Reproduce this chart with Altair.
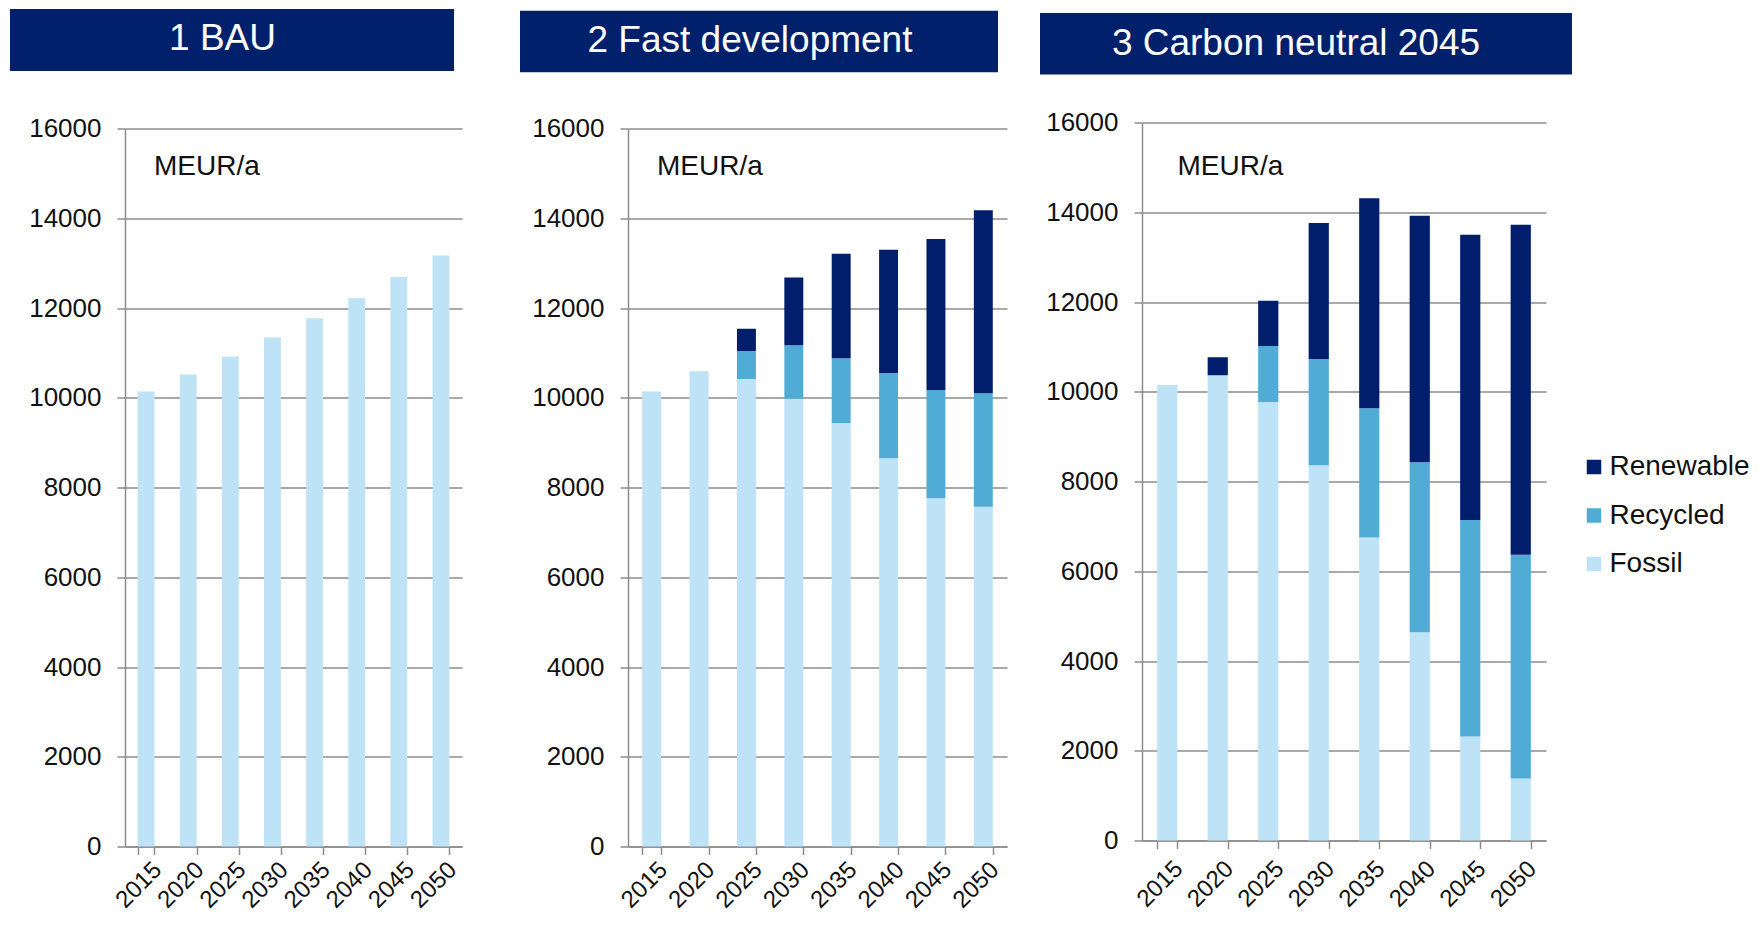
import altair as alt
import pandas as pd

# ---------------- data ----------------
years = ["2015", "2020", "2025", "2030", "2035", "2040", "2045", "2050"]
sources = ["Renewable", "Recycled", "Fossil"]
source_colors = ["#001E6C", "#51ACD5", "#BEE3F7"]
titles = ["1 BAU", "2 Fast development", "3 Carbon neutral 2045"]
unit_label = "MEUR/a"
y_ticks = [0, 2000, 4000, 6000, 8000, 10000, 12000, 14000, 16000]

bau_fossil = [10140, 10520, 10920, 11340, 11770, 12220, 12690, 13170]

fast_fossil = [10140, 10590, 10420, 9980, 9440, 8650, 7760, 7570]
fast_recycled = [0, 0, 620, 1190, 1440, 1900, 2410, 2530]
fast_renewable = [0, 0, 500, 1510, 2330, 2750, 3370, 4080]

cn_fossil = [10150, 10370, 9770, 8360, 6750, 4640, 2320, 1380]
cn_recycled = [0, 0, 1250, 2370, 2880, 3790, 4820, 4990]
cn_renewable = [0, 400, 1010, 3030, 4680, 5490, 6360, 7350]

# ---------------- style ----------------
FONT = "Liberation Sans"
NAVY = "#00206B"
GRID = "#8C8C8C"
TEXT = "#111111"
stack_order = {"Fossil": 0, "Recycled": 1, "Renewable": 2}


def long_df(series):
    rows = []
    for src, vals in series.items():
        for yr, v in zip(years, vals):
            if v > 0:
                rows.append({"year": yr, "source": src, "value": v, "ord": stack_order[src]})
    return pd.DataFrame(rows)


one = pd.DataFrame({"k": [0]})


def panel(df, w, h, y_range, title, spacer, hdr, txt, meur, xlab_pad, legend=None):
    x = alt.X(
        "year:N",
        sort=years,
        scale=alt.Scale(domain=years, paddingInner=0.6, paddingOuter=0.3),
        axis=alt.Axis(
            title=None, labelAngle=315, labelAlign="right", labelBaseline="top",
            labelFontSize=24, labelFont=FONT, labelColor=TEXT, labelPadding=xlab_pad,
            labelOffset=3, tickBand="extent", tickSize=8, tickColor=GRID, tickWidth=1.5,
            domainColor=GRID, domainWidth=1.5, grid=False, labelOverlap=False,
        ),
    )
    y = alt.Y(
        "value:Q",
        stack="zero",
        scale=alt.Scale(domain=[0, 16000], nice=False, range=y_range),
        axis=alt.Axis(
            title=None, values=y_ticks, format="d", labelFontSize=26, labelFont=FONT,
            labelColor=TEXT, labelPadding=16, tickSize=8, tickColor=GRID, tickWidth=1.5,
            gridColor=GRID, gridWidth=1.5, domainColor=GRID, domainWidth=1.5,
        ),
    )
    if legend is None:
        color = alt.Color("source:N", scale=alt.Scale(domain=sources, range=source_colors), legend=None)
    else:
        color = alt.Color("source:N", scale=alt.Scale(domain=sources, range=source_colors), legend=legend)

    bars = alt.Chart(df).mark_bar().encode(
        x=x, y=y, color=color, order=alt.Order("ord:Q", sort="ascending")
    )
    sp = alt.Chart(one).mark_rect(color="white").encode(
        x=alt.value(spacer[0]), x2=alt.value(spacer[1]),
        y=alt.value(spacer[2]), y2=alt.value(spacer[2] + 1),
    )
    header = alt.Chart(one).mark_rect(color=NAVY).encode(
        x=alt.value(hdr[0]), x2=alt.value(hdr[1]), y=alt.value(hdr[2]), y2=alt.value(hdr[3])
    )
    head_text = alt.Chart(one).mark_text(
        text=title, font=FONT, fontSize=37, color="white", align="center", baseline="alphabetic"
    ).encode(x=alt.value(txt[0]), y=alt.value(txt[1]))
    unit = alt.Chart(one).mark_text(
        text=unit_label, font=FONT, fontSize=28, color=TEXT, align="left", baseline="alphabetic"
    ).encode(x=alt.value(meur[0]), y=alt.value(meur[1]))
    return alt.layer(sp, header, head_text, bars, unit).properties(width=w, height=h)


p1 = panel(
    long_df({"Fossil": bau_fossil}), 337, 724, [724, 6], titles[0],
    spacer=(-115, 375, -113.5), hdr=(-115, 329, -113.5, -51.5), txt=(97.5, -72.2),
    meur=(29, 52), xlab_pad=3,
)
p2 = panel(
    long_df({"Fossil": fast_fossil, "Recycled": fast_recycled, "Renewable": fast_renewable}),
    379, 724, [724, 6], titles[1],
    spacer=(-128, 392, -113.5), hdr=(-108, 370, -111.8, -50.3), txt=(122, -70.5),
    meur=(29, 52), xlab_pad=3,
)
legend3 = alt.Legend(
    orient="none", legendX=438, legendY=330.5, title=None, symbolType="square",
    symbolSize=210, symbolStrokeWidth=0, labelFontSize=28, labelFont=FONT, labelColor=TEXT,
    rowPadding=20.5, labelOffset=1.5, padding=0,
)
p3 = panel(
    long_df({"Fossil": cn_fossil, "Recycled": cn_recycled, "Renewable": cn_renewable}),
    404, 718, [718, 0], titles[2],
    spacer=(-122, 438, -113.5), hdr=(-102, 430, -109.5, -48), txt=(154, -67.5),
    meur=(35.5, 52), xlab_pad=8, legend=legend3,
)

chart = (
    alt.hconcat(p1, p2, p3, spacing=0)
    .resolve_scale(color="independent")
    .properties(padding={"left": 2, "top": 0.5, "right": 0, "bottom": 0})
    .configure(font=FONT)
    .configure_view(strokeWidth=0)
)

chart.save("out.html", embed_options={"renderer": "svg", "actions": False})
